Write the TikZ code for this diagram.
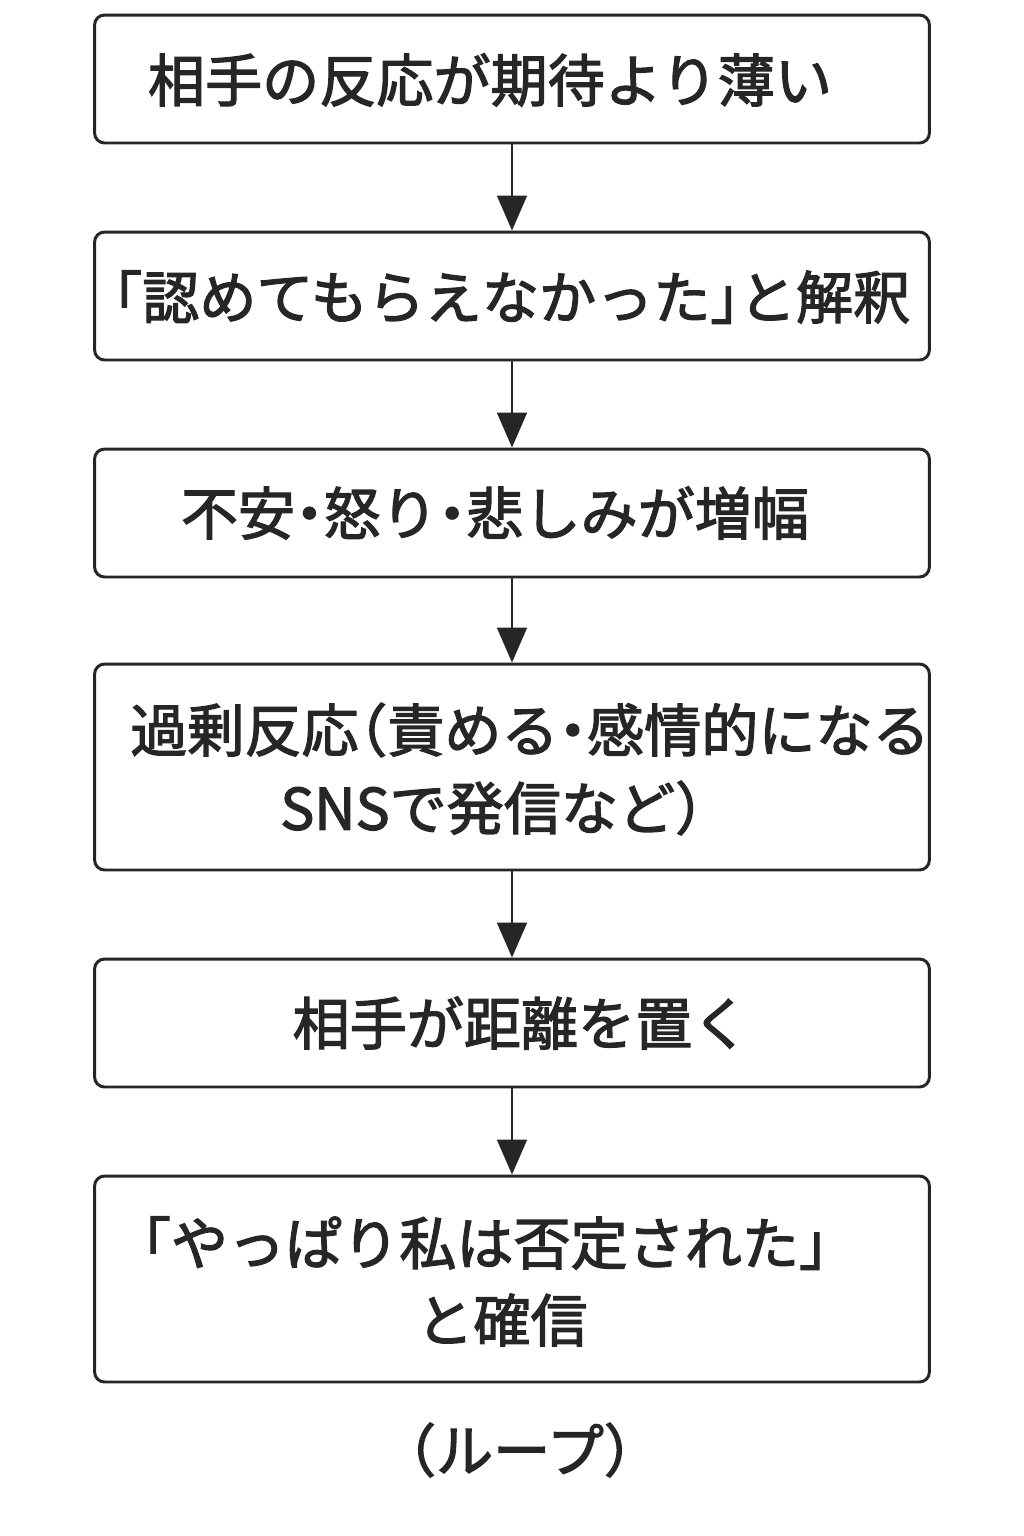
\documentclass[tikz,border=0pt]{standalone}
\usepackage{fontspec}
\setmainfont{Noto Sans CJK JP}[RawFeature={+halt;embolden=2.2}]
\usetikzlibrary{arrows.meta}

\tikzset{
  stepbox/.style={draw=black!85, line width=1.7pt, rounded corners=0.2cm,
    minimum width=16.7cm, minimum height=2.56cm, inner sep=0pt},
  tallbox/.style={stepbox, minimum height=4.12cm},
  boxtext/.style={font=\fontsize{32.5}{44}\selectfont, text=black!85, align=center, inner sep=0pt},
  flow/.style={draw=black!85, line width=1.1pt, -{Triangle[width=0.6cm,length=0.7cm]}}
}

\begin{document}
\begin{tikzpicture}[x=0.02cm, y=-0.02cm]
    \useasboundingbox (0,0) rectangle (1024,1536);

    % boxes
    \node[stepbox] (b1) at (512,79) {};
    \node[stepbox] (b2) at (512,296) {};
    \node[stepbox] (b3) at (512,513) {};
    \node[tallbox] (b4) at (512,767) {};
    \node[stepbox] (b5) at (512,1023) {};
    \node[tallbox] (b6) at (512,1279) {};

    % texts
    \node[boxtext] (t1) at (490,80) {相手の反応が期待より薄い};
    \node[boxtext] (t2) at (512,297) {「認めてもらえなかった」と解釈};
    \node[boxtext] (t3) at (495,513) {不安・怒り・悲しみが増幅};
    \node[boxtext] (t4a) at (530,730) {過剰反応（責める・感情的になる};
    \node[boxtext] (t4b) at (492,808) {SNSで発信など）};
    \node[boxtext] (t5) at (521,1023) {相手が距離を置く};
    \node[boxtext] (t6a) at (485,1243) {「やっぱり私は否定された」};
    \node[boxtext] (t6b) at (502,1320) {と確信};
    \node[boxtext] (loop) at (520,1450) {（ループ）};

    % arrows
    \foreach \a/\b in {b1/b2, b2/b3, b3/b4, b4/b5, b5/b6}
        \draw[flow] (\a.south) -- (\b.north);
\end{tikzpicture}
\end{document}
